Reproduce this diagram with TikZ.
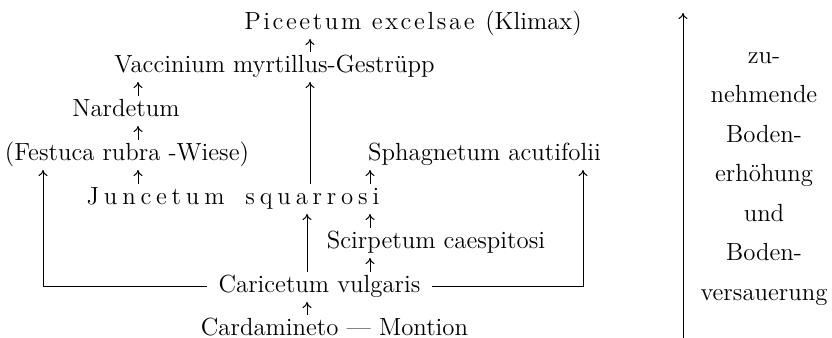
\documentclass[tikz,border=0pt]{standalone}
\usepackage{fontspec}
\usetikzlibrary{arrows.meta,calc}
\makeatletter
\def\lspword#1#2{\def\lsp@k{#1}\lsp@a#2\relax}
\def\lsp@a#1{\ifx#1\relax\else#1\kern\lsp@k\expandafter\lsp@a\fi}
\makeatother
\begin{document}
\begin{tikzpicture}[x=0.5pt,y=-0.5pt,
  txt/.style={font=\fontsize{12.4pt}{14pt}\selectfont, inner sep=0pt, outer sep=0pt,
    text height=8pt, text depth=2pt, anchor=base},
  arr/.style={line width=0.5pt, -{To[length=3pt,width=4.5pt]}},
  up/.style={arr, shorten <=2pt, shorten >=3pt},
  hookl/.style={arr, shorten <=6pt, shorten >=3pt}]
\useasboundingbox (0,0) rectangle (832,338);
% column x coordinates
\coordinate (x43) at (43,0);
\coordinate (x138) at (138,0);
\coordinate (x307) at (307,0);
\coordinate (x310) at (310,0);
\coordinate (x370) at (370,0);
\coordinate (x583) at (583,0);
% nodes
\node[txt] (pic) at (413,29) {\lspword{1.3pt}{Piceetum}\ \lspword{1.3pt}{excelsae}\ (Klimax)};
\node[txt] (vac) at (274.5,72) {Vaccinium myrtillus-Gestrüpp};
\node[txt] (nar) at (126,116) {Nardetum};
\node[txt] (fes) at (127,160) {(Festuca rubra -Wiese)};
\node[txt] (sph) at (484.5,160) {Sphagnetum acutifolii};
\node[txt] (jun) at (233,204) {\lspword{2.4pt}{Juncetum}\ \ \lspword{2.4pt}{squarrosi}\kern-2.4pt};
\node[txt] (sci) at (436,248) {Scirpetum caespitosi};
\node[txt] (car) at (319.5,292) {Caricetum vulgaris};
\node[txt] (mon) at (334.5,335) {Cardamineto --- Montion};
% arrows
\draw[up] (vac.north -| x310) -- (pic.south -| x310);
\draw[up] (nar.north -| x138) -- (vac.south -| x138);
\draw[up] (fes.north -| x138) -- (nar.south -| x138);
\draw[up] (jun.north -| x138) -- (fes.south -| x138);
\draw[up] (jun.north -| x310) -- (vac.south -| x310);
\draw[up] (jun.north -| x370) -- (sph.south -| x370);
\draw[up] (sci.north -| x370) -- (jun.south -| x370);
\draw[up] (car.north -| x370) -- (sci.south -| x370);
\draw[up] (car.north -| x307) -- (jun.south -| x307);
\draw[up] (mon.north -| x307) -- (car.south -| x307);
\draw[hookl] (car.west) -- (car.west -| x43) -- (fes.south -| x43);
\draw[hookl] (car.east) -- (car.east -| x583) -- (sph.south -| x583);
% right side
\coordinate (rb) at (683,338);
\coordinate (rt) at (683,13);
\draw[arr] (rb) -- (rt);
\foreach \t [count=\i] in {zu-,nehmende,Boden-,erhöhung,und,Boden-,versauerung}
  \node[txt] (r\i) at (764,{63+39.5*(\i-1)}) {\t};
\end{tikzpicture}
\end{document}
